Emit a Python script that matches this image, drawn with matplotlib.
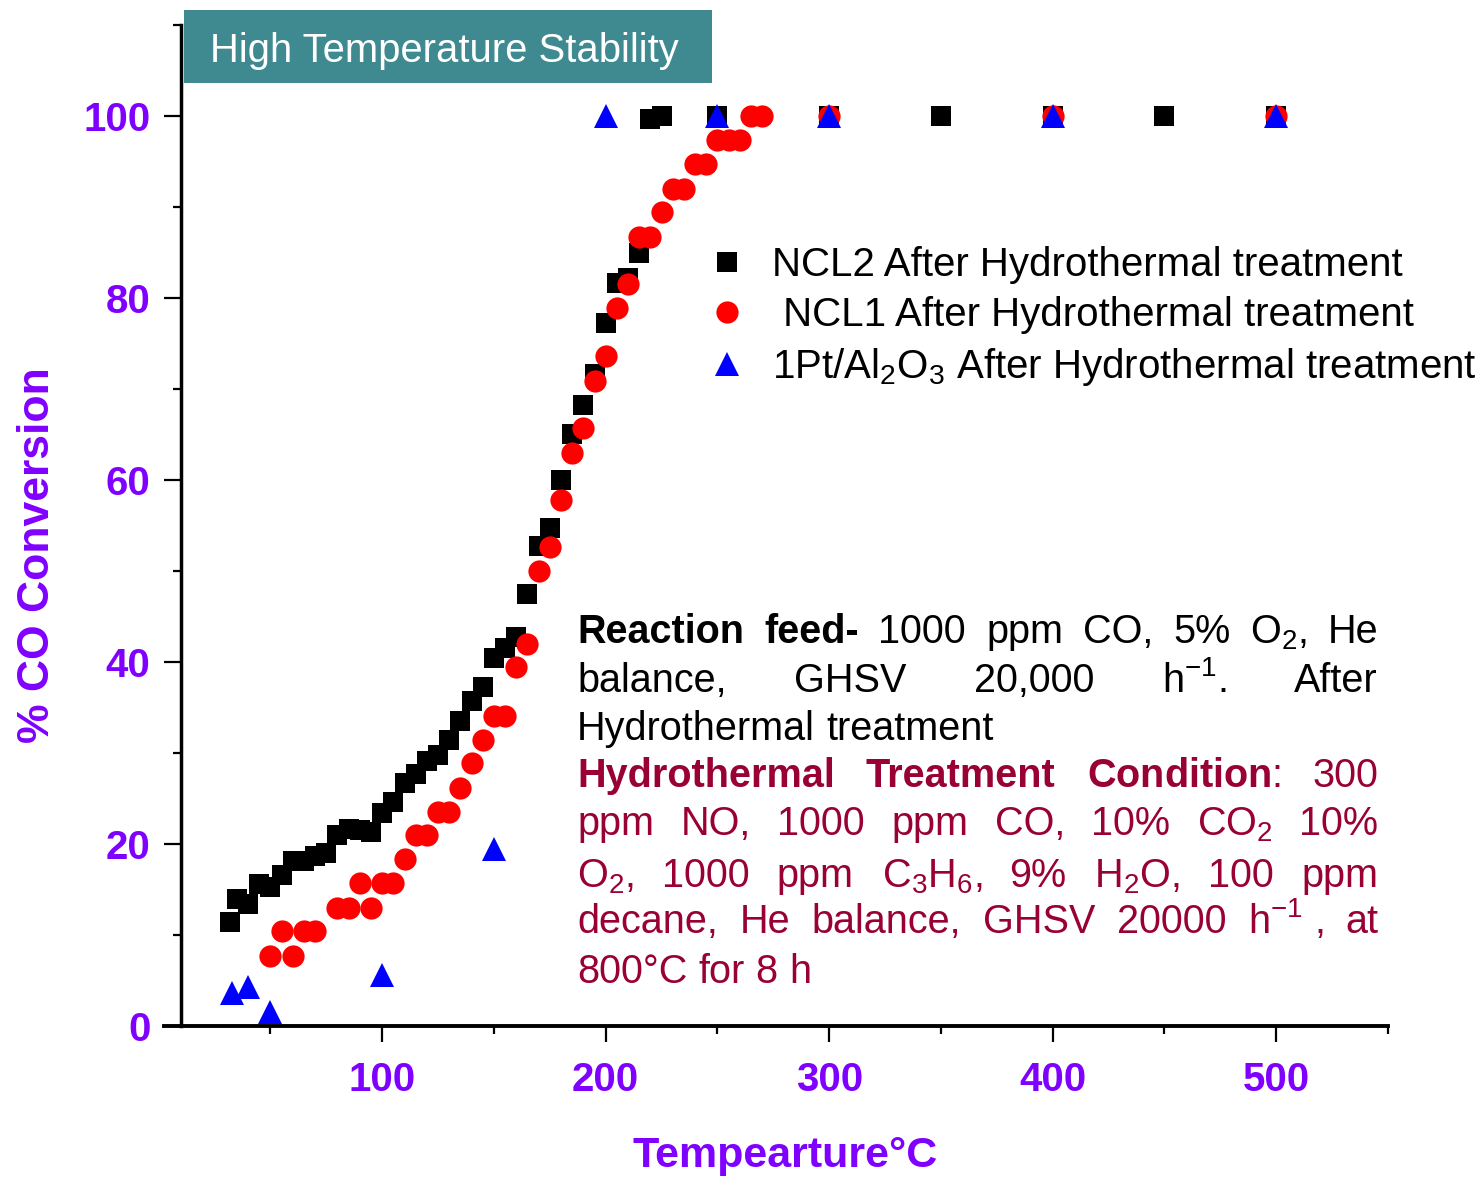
import matplotlib
matplotlib.use("Agg")
import matplotlib.pyplot as plt
from matplotlib.patches import Rectangle
from matplotlib.ticker import MultipleLocator, FixedLocator

plt.rcParams['font.family'] = ['Liberation Sans', 'DejaVu Sans']
plt.rcParams['mathtext.fontset'] = 'custom'
plt.rcParams['mathtext.rm'] = 'Liberation Sans'
plt.rcParams['mathtext.it'] = 'Liberation Sans:italic'
plt.rcParams['mathtext.bf'] = 'Liberation Sans:bold'

# ---- data: CO conversion (%) vs temperature (deg C) ----
ncl2_temp = [32, 35, 40, 45, 50, 55, 60, 65, 70, 75, 80, 85, 90, 95, 100, 105, 110, 115,
             120, 125, 130, 135, 140, 145, 150, 155, 160, 165, 170, 175, 180, 185, 190,
             195, 200, 205, 210, 215, 220, 225, 250, 300, 350, 400, 450, 500]
ncl2_conv = [11.4, 14.0, 13.4, 15.6, 15.3, 16.6, 18.1, 18.1, 18.7, 19.0, 21.0, 21.7, 21.5,
             21.3, 23.4, 24.6, 26.7, 27.7, 29.1, 29.8, 31.4, 33.5, 35.7, 37.3, 40.4, 41.5,
             42.7, 47.5, 52.7, 54.7, 60.0, 65.1, 68.2, 71.7, 77.2, 81.7, 82.2, 84.9, 99.7,
             100, 100, 100, 100, 100, 100, 100]

ncl1_temp = [50, 55, 60, 65, 70, 80, 85, 90, 95, 100, 105, 110, 115, 120, 125, 130, 135,
             140, 145, 150, 155, 160, 165, 170, 175, 180, 185, 190, 195, 200, 205, 210,
             215, 220, 225, 230, 235, 240, 245, 250, 255, 260, 265, 270, 300, 400, 500]
ncl1_conv = [7.7, 10.4, 7.7, 10.4, 10.4, 13.0, 13.0, 15.7, 13.0, 15.7, 15.7, 18.4, 21.0,
             21.0, 23.5, 23.5, 26.2, 28.9, 31.4, 34.1, 34.1, 39.5, 42.0, 50.0, 52.6, 57.8,
             63.0, 65.7, 70.9, 73.6, 78.9, 81.5, 86.7, 86.7, 89.4, 92.0, 92.0, 94.7, 94.7,
             97.4, 97.4, 97.4, 100, 100, 100, 100, 100]

pt_temp = [33, 40, 50, 100, 150, 200, 250, 300, 400, 500]
pt_conv = [3.6, 4.3, 1.5, 5.6, 19.4, 100, 100, 100, 100, 100]

series_labels = ["NCL2 After Hydrothermal treatment",
                 " NCL1 After Hydrothermal treatment",
                 "1Pt/Al$_2$O$_3$ After Hydrothermal treatment"]

x_major = [100, 200, 300, 400, 500]
x_minor = [50, 150, 250, 350, 450, 550]

PURPLE = '#8000FF'
DARKRED = '#990033'
TEAL = '#3E8A90'

W, H = 1482, 1177
fig = plt.figure(figsize=(W / 100, H / 100), dpi=100)
fig.patch.set_facecolor('white')


def fx(px):
    return px / W


def fy(py):
    return 1 - py / H


ax = fig.add_axes([fx(164), fy(1026), fx(1388) - fx(164), fy(25) - fy(1026)])
ax.set_xlim(2.4, 550)
ax.set_ylim(0, 110)

ax.plot(ncl2_temp, ncl2_conv, linestyle='none', marker='s', ms=14.5, color='black',
        mew=0, label=series_labels[0], clip_on=False, zorder=3)
ax.plot(ncl1_temp, ncl1_conv, linestyle='none', marker='o', ms=16, color='#FF0000',
        mew=0, label=series_labels[1], clip_on=False, zorder=4)
ax.plot(pt_temp, pt_conv, linestyle='none', marker='^', ms=17.5, color='#0000FF',
        mew=0, label=series_labels[2], clip_on=False, zorder=5)

# axes styling
for side in ('top', 'right'):
    ax.spines[side].set_visible(False)
ax.spines['left'].set_position(('data', 10))
ax.spines['left'].set_linewidth(2.5)
ax.spines['bottom'].set_linewidth(2.8)

ax.xaxis.set_major_locator(FixedLocator(x_major))
ax.xaxis.set_minor_locator(FixedLocator(x_minor))
ax.yaxis.set_major_locator(MultipleLocator(20))
ax.yaxis.set_minor_locator(MultipleLocator(10))
ax.tick_params(axis='x', which='major', direction='out', length=11.5, width=1.6,
               pad=14, labelsize=29, labelcolor=PURPLE)
ax.tick_params(axis='x', which='minor', direction='out', length=5.5, width=1.6)
ax.tick_params(axis='y', which='major', direction='out', length=12, width=1.6,
               pad=10, labelsize=29, labelcolor=PURPLE)
ax.tick_params(axis='y', which='minor', direction='out', length=5.5, width=1.6)
for lab in ax.get_xticklabels() + ax.get_yticklabels():
    lab.set_fontweight('bold')

ax.set_xlabel("Tempearture°C", fontsize=31, fontweight='bold', color=PURPLE)
ax.xaxis.set_label_coords((785 - 164) / 1224, (1026 - 1136) / 1001)
ax.set_ylabel("% CO Conversion", fontsize=32, fontweight='bold', color=PURPLE)
ax.yaxis.set_label_coords((58 - 164) / 1224, (1026 - 555) / 1001)

# legend
leg = ax.legend(loc='upper left', bbox_to_anchor=(fx(707), fy(246)),
                bbox_transform=fig.transFigure, frameon=False, fontsize=29,
                handlelength=1.0, handletextpad=0.62, borderpad=0, borderaxespad=0,
                labelspacing=0.3, numpoints=1)

# title banner
fig.add_artist(Rectangle((fx(184), fy(83)), fx(712) - fx(184), fy(10) - fy(83),
                         transform=fig.transFigure, facecolor=TEAL, edgecolor='none',
                         zorder=2))
fig.text(fx(210), fy(51), "High Temperature Stability", fontsize=28.8, color='white',
         va='center', ha='left', zorder=3)

# justified annotation block
block_lines = [
    ([("Reaction", 'bold', 'black'), ("feed-", 'bold', 'black'), ("1000", 'normal', 'black'),
      ("ppm", 'normal', 'black'), ("CO,", 'normal', 'black'), ("5%", 'normal', 'black'),
      ("O$_2$,", 'normal', 'black'), ("He", 'normal', 'black')], True, 643),
    ([("balance,", 'normal', 'black'), ("GHSV", 'normal', 'black'),
      ("20,000", 'normal', 'black'), ("h$^{-1}$.", 'normal', 'black'),
      ("After", 'normal', 'black')], True, 692),
    ([("Hydrothermal", 'normal', 'black'), ("treatment", 'normal', 'black')], False, 740),
    ([("Hydrothermal", 'bold', DARKRED), ("Treatment", 'bold', DARKRED),
      (r"$\mathbf{Condition}$:", 'normal', DARKRED), ("300", 'normal', DARKRED)], True, 787),
    ([("ppm", 'normal', DARKRED), ("NO,", 'normal', DARKRED), ("1000", 'normal', DARKRED),
      ("ppm", 'normal', DARKRED), ("CO,", 'normal', DARKRED), ("10%", 'normal', DARKRED),
      ("CO$_2$", 'normal', DARKRED), ("10%", 'normal', DARKRED)], True, 835),
    ([("O$_2$,", 'normal', DARKRED), ("1000", 'normal', DARKRED), ("ppm", 'normal', DARKRED),
      ("C$_3$H$_6$,", 'normal', DARKRED), ("9%", 'normal', DARKRED),
      ("H$_2$O,", 'normal', DARKRED), ("100", 'normal', DARKRED),
      ("ppm", 'normal', DARKRED)], True, 887),
    ([("decane,", 'normal', DARKRED), ("He", 'normal', DARKRED),
      ("balance,", 'normal', DARKRED), ("GHSV", 'normal', DARKRED),
      ("20000", 'normal', DARKRED), ("h$^{-1}$ ,", 'normal', DARKRED),
      ("at", 'normal', DARKRED)], True, 933),
    ([("800°C", 'normal', DARKRED), ("for", 'normal', DARKRED), ("8", 'normal', DARKRED),
      ("h", 'normal', DARKRED)], False, 983),
]

BLOCK_X0, BLOCK_X1 = 577, 1378
BLOCK_SIZE = 28.5

renderer = fig.canvas.get_renderer()
probe_a = fig.text(0, 0, "a a", fontsize=BLOCK_SIZE)
probe_b = fig.text(0, 0, "aa", fontsize=BLOCK_SIZE)
space_w = (probe_a.get_window_extent(renderer).width
           - probe_b.get_window_extent(renderer).width)
probe_a.remove()
probe_b.remove()

for words, justify, baseline in block_lines:
    items = [fig.text(0, fy(baseline), w, fontsize=BLOCK_SIZE, fontweight=wt, color=c,
                      ha='left', va='baseline') for w, wt, c in words]
    widths = [t.get_window_extent(renderer).width for t in items]
    if justify and len(items) > 1:
        gap = (BLOCK_X1 - BLOCK_X0 - sum(widths)) / (len(items) - 1)
    else:
        gap = space_w
    x = BLOCK_X0
    for t, w in zip(items, widths):
        t.set_x(fx(x))
        x += w + gap

fig.savefig("out.png", dpi=100, facecolor='white')
